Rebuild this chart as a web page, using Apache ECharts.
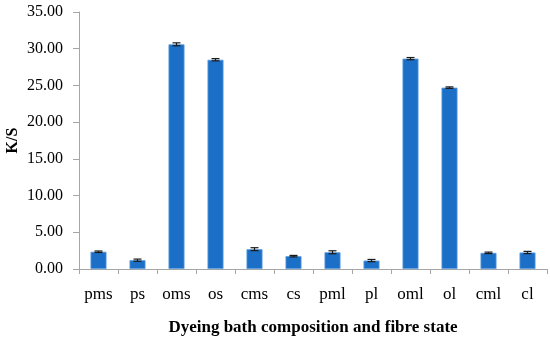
<!DOCTYPE html>
<html><head><meta charset="utf-8">
<script src="https://cdn.jsdelivr.net/npm/echarts@6/dist/echarts.min.js"></script>
<style>html,body{margin:0;padding:0;background:#fff}#c{width:550px;height:344px}</style>
</head><body><div id="c"></div>
<script>
const categories = ['pms','ps','oms','os','cms','cs','pml','pl','oml','ol','cml','cl'];
const values = [2.35, 1.2, 30.6, 28.5, 2.7, 1.75, 2.28, 1.15, 28.65, 24.7, 2.2, 2.25];
const errors = [0.1, 0.15, 0.2, 0.15, 0.2, 0.1, 0.2, 0.15, 0.15, 0.1, 0.1, 0.15];
const yTicks = [0, 5, 10, 15, 20, 25, 30, 35];

const errData = values.map((v, i) => [i, v - errors[i], v + errors[i]]);
const font = '"Liberation Serif", "DejaVu Serif", serif';
const chart = echarts.init(document.getElementById('c'));
chart.setOption({
  animation: false,
  grid: {left: 79, right: 3, top: 12, bottom: 75, outerBoundsMode: 'none', containLabel: false},
  xAxis: {
    type: 'category', data: categories,
    axisLine: {lineStyle: {color: '#a6a6a6', width: 1}},
    axisTick: {show: true, length: 5, lineStyle: {color: '#a6a6a6'}},
    axisLabel: {color: '#000', fontFamily: font, fontSize: 17, margin: 17},
    name: 'Dyeing bath composition and fibre state',
    nameLocation: 'middle', nameGap: 50,
    nameTextStyle: {color: '#000', fontFamily: font, fontSize: 17, fontWeight: 'bold'}
  },
  yAxis: {
    type: 'value', min: yTicks[0], max: yTicks[yTicks.length - 1], interval: 5,
    axisLine: {show: true, lineStyle: {color: '#a6a6a6', width: 1}},
    axisTick: {show: true, length: 6, lineStyle: {color: '#a6a6a6'}},
    splitLine: {show: false},
    axisLabel: {color: '#000', fontFamily: font, fontSize: 16, margin: 16,
      formatter: v => v.toFixed(2)},
    name: 'K/S', nameLocation: 'middle', nameGap: 58, nameRotate: 90, nameMoveOverlap: false,
    nameTextStyle: {color: '#000', fontFamily: font, fontSize: 16, fontWeight: 'bold'}
  },
  series: [
    {type: 'bar', data: values, barWidth: 16,
     itemStyle: {color: '#1b6fc6', borderColor: '#5d9de0', borderWidth: 0.8}},
    {type: 'custom', data: errData, encode: {x: 0, y: [1, 2]}, z: 10,
     renderItem: function (params, api) {
       const x = api.value(0);
       const lo = api.coord([x, api.value(1)]);
       const hi = api.coord([x, api.value(2)]);
       const hw = 4;
       const st = {stroke: '#1a1a1a', lineWidth: 1.2};
       return {type: 'group', children: [
         {type: 'line', shape: {x1: lo[0], y1: lo[1], x2: hi[0], y2: hi[1]}, style: st},
         {type: 'line', shape: {x1: lo[0]-hw, y1: lo[1], x2: lo[0]+hw, y2: lo[1]}, style: st},
         {type: 'line', shape: {x1: hi[0]-hw, y1: hi[1], x2: hi[0]+hw, y2: hi[1]}, style: st}
       ]};
     }}
  ]
});
</script></body></html>
